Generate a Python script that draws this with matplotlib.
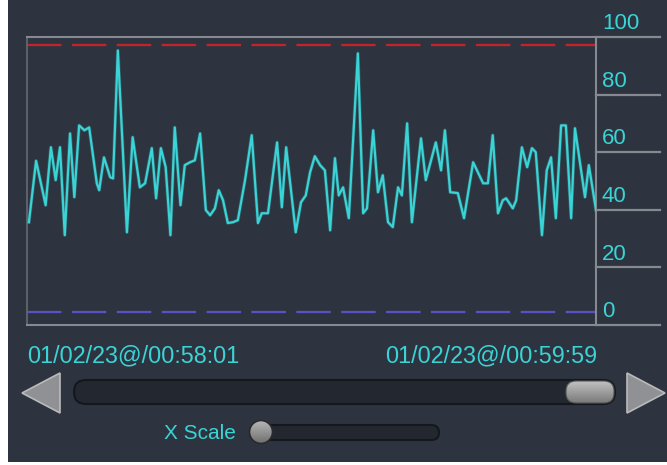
import numpy as np
import matplotlib
matplotlib.use('Agg')
import matplotlib.pyplot as plt
from matplotlib.patches import FancyBboxPatch, Polygon, Circle, Rectangle
import matplotlib.transforms as mtransforms

'''Data read off the reference (time in seconds from 00:58:01, value 0-100)'''
t_sec = [0.4, 1.9, 3.9, 5.0, 6.0, 6.9, 7.9, 9.0, 9.9, 10.9, 12.0, 13.0, 14.6, 15.1, 16.1,
         17.4, 18.0, 19.0, 20.9, 22.1, 23.6, 24.7, 26.1, 27.0, 28.0, 29.0, 30.0, 30.9, 32.1,
         33.0, 34.1, 35.1, 36.2, 37.4, 38.3, 39.3, 40.1, 41.0, 42.0, 43.1, 44.1, 45.6, 47.0,
         48.3, 49.1, 50.4, 52.3, 53.3, 54.2, 56.2, 57.3, 58.3, 59.2, 60.2, 61.3, 62.3, 63.4,
         64.4, 65.2, 66.1, 67.3, 69.2, 70.3, 71.1, 72.4, 73.4, 74.4, 75.5, 76.5, 77.6, 78.4,
         79.5, 80.5, 82.4, 83.4, 85.5, 86.6, 87.4, 88.5, 90.1, 91.4, 93.3, 95.4, 96.4, 97.4,
         98.5, 99.5, 100.2, 101.6, 102.3, 103.5, 104.6, 105.6, 106.4, 107.7, 108.7, 109.6,
         110.6, 111.7, 112.7, 113.8, 114.6, 116.7, 117.5, 119.0]
values = [35.7, 57.0, 41.6, 61.7, 50.3, 61.7, 31.2, 66.5, 44.4, 69.3, 67.6, 68.6, 49.2, 46.8, 58.2,
          51.3, 50.9, 95.3, 32.2, 65.2, 47.8, 49.2, 61.4, 44.0, 61.4, 54.8, 31.2, 68.6, 41.6,
          55.5, 56.5, 57.2, 66.5, 39.9, 38.1, 40.5, 46.8, 43.3, 35.4, 35.7, 36.4, 50.3, 65.9,
          35.4, 38.8, 38.8, 63.4, 40.9, 61.7, 32.2, 42.6, 45.0, 53.0, 58.6, 55.5, 53.7, 32.9,
          57.9, 45.0, 47.8, 37.1, 94.3, 38.8, 40.5, 67.6, 46.1, 52.0, 35.7, 34.0, 47.8, 45.0,
          70.0, 35.7, 64.8, 50.3, 63.4, 53.7, 67.6, 46.1, 45.8, 37.1, 56.5, 49.2, 49.2, 65.9,
          38.8, 43.3, 44.0, 40.5, 43.3, 61.7, 54.8, 61.4, 60.0, 31.2, 53.7, 58.2,
          37.1, 69.3, 69.3, 37.1, 68.3, 44.4, 55.5, 39.9]
upper_limit = 97.3
lower_limit = 4.6
y_ticks = [0, 20, 40, 60, 80, 100]
t_start_label = '01/02/23@/00:58:01'
t_end_label = '01/02/23@/00:59:59'
t_span = 119

W, H = 667, 465
BG = '#2e343f'
CYAN = '#3ad4d6'
GREY = '#868a90'
FONT = 'Liberation Sans'

fig = plt.figure(figsize=(W / 100, H / 100), dpi=100, facecolor='white')

'''overlay in pixel coords (y measured from top) for the panel and widgets'''
over = fig.add_axes([0, 0, 1, 1])
over.axis('off')
over.add_patch(Rectangle((8, 0), W - 8, 462, facecolor=BG, edgecolor='none', zorder=0))

# main chart
ax = fig.add_axes([27 / W, 1 - 325 / H, 569 / W, 288 / H])
ax.set_facecolor(BG)
ax.plot(t_sec, values, color=CYAN, lw=2.6, alpha=0.25, zorder=3)
ax.plot(t_sec, values, color=CYAN, lw=1.6, zorder=3)
ax.axhline(upper_limit, color='#c5222c', lw=1.6, dashes=(15.5, 4.7), zorder=2)
ax.axhline(lower_limit, color='#5a52c4', lw=1.6, dashes=(15.5, 4.7), zorder=2)
ax.set_xlim(0, t_span)
ax.set_ylim(0, 100)
ax.set_xticks([])
ax.set_yticks([])
for s in ax.spines.values():
    s.set_color(GREY)
    s.set_linewidth(1.5)
ax.spines['left'].set_color('#5c6068')

trans = mtransforms.blended_transform_factory(ax.transAxes, ax.transData)
for v in y_ticks:
    ax.plot([1.0, 1.1125], [v, v], color=GREY, lw=1.6, transform=trans, clip_on=False)
    ax.text(1.0105, v + 1.0, str(v), color=CYAN, fontsize=16, family=FONT,
            ha='left', va='bottom', transform=trans)

# time labels
over.text(27, 362, t_start_label, color=CYAN, fontsize=16.8, family=FONT,
          ha='left', va='baseline')
over.text(597, 362, t_end_label, color=CYAN, fontsize=16.8, family=FONT,
          ha='right', va='baseline')


def rounded(x0, y0, w, h, r, fc, ec, lw=1.2, z=2):
    p = FancyBboxPatch((x0, y0), w, h, boxstyle='round,pad=0,rounding_size=%g' % r,
                       facecolor=fc, edgecolor=ec, lw=lw, zorder=z)
    over.add_patch(p)
    return p


def gradient_fill(patch, extent, top='#c4c4c4', bottom='#7a7a7a', z=3):
    grad = np.linspace(0, 1, 64).reshape(-1, 1)
    cmap = matplotlib.colors.LinearSegmentedColormap.from_list('g', [top, bottom])
    im = over.imshow(grad, extent=extent, cmap=cmap, aspect='auto', zorder=z)
    im.set_clip_path(patch)


# scroll bar
rounded(74, 380, 541, 24, 12, '#232830', '#14171c', lw=1.5)
thumb = rounded(566, 381, 48, 22, 10, 'none', '#555555', lw=0.8, z=4)
gradient_fill(thumb, (566, 614, 403, 381))

# arrows
for pts in ([(22, 393), (60, 373), (60, 413)], [(665, 393), (627, 373), (627, 413)]):
    tri = Polygon(pts, closed=True, facecolor='#8f9194', edgecolor='#b9babc', lw=1.2, zorder=3)
    over.add_patch(tri)

# x scale slider
over.text(236, 433, 'X Scale', color=CYAN, fontsize=15, family=FONT,
          ha='right', va='center')
rounded(250, 425, 189, 15, 7.5, '#232830', '#14171c', lw=1.5)
knob = Circle((261, 432), 11.5, facecolor='none', edgecolor='#2a2a2a', lw=1.2, zorder=4)
over.add_patch(knob)
gradient_fill(knob, (249, 273, 444, 420), top='#b8b8b8', bottom='#6e6e6e')

over.set_xlim(0, W)
over.set_ylim(H, 0)

fig.savefig('out.png', dpi=100, facecolor=fig.get_facecolor())
